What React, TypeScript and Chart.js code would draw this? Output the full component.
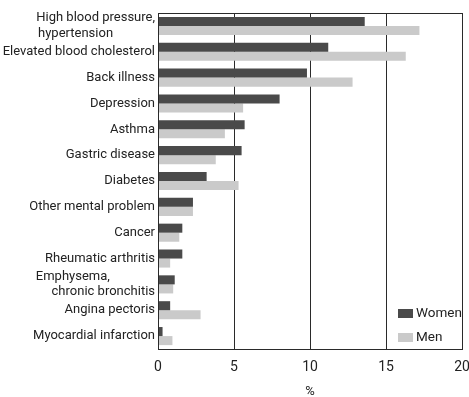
import React, { useEffect, useRef } from 'react';
import { Chart, registerables } from 'chart.js';

Chart.register(...registerables);

const categories: (string | string[])[] = [
  ['High blood pressure,', 'hypertension             '],
  'Elevated blood cholesterol',
  'Back illness',
  'Depression',
  'Asthma',
  'Gastric disease',
  'Diabetes',
  'Other mental problem',
  'Cancer',
  'Rheumatic arthritis',
  ['Emphysema,              ', 'chronic bronchitis'],
  'Angina pectoris',
  'Myocardial infarction',
];
const women = [13.6, 11.2, 9.8, 8.0, 5.7, 5.5, 3.2, 2.3, 1.6, 1.6, 1.1, 0.8, 0.3];
const men = [17.2, 16.3, 12.8, 5.6, 4.4, 3.8, 5.3, 2.3, 1.4, 0.8, 1.0, 2.8, 0.95];
const xTicks = [0, 5, 10, 15, 20];
const seriesNames = ['Women', 'Men'];
const seriesColors = ['#4a4a4a', '#cacaca'];
const axisTitle = '%';

const FONT = 'Roboto, "Noto Sans", sans-serif';

const framePlugin = {
  id: 'frame',
  afterDraw(chart: any) {
    const { ctx, chartArea } = chart;
    const { left, right, top, bottom } = chartArea;
    ctx.save();
    ctx.strokeStyle = '#2a2a2a';
    ctx.lineWidth = 1;
    ctx.strokeRect(Math.round(left) + 0.5, Math.round(top) + 0.5, Math.round(right - left), Math.round(bottom - top));
    const boxW = 15;
    const boxH = 9;
    const bx = right - 64;
    const rows = [bottom - 40, bottom - 16];
    ctx.font = '13.5px ' + FONT;
    ctx.textBaseline = 'middle';
    ctx.textAlign = 'left';
    seriesNames.forEach((name, i) => {
      const y = rows[i];
      ctx.fillStyle = seriesColors[i];
      ctx.fillRect(bx, y, boxW, boxH);
      ctx.fillStyle = '#222';
      ctx.fillText(name, bx + boxW + 3, y + boxH / 2 + 0.5);
    });
    ctx.restore();
  },
};

export default function App() {
  const ref = useRef<HTMLCanvasElement | null>(null);
  useEffect(() => {
    if (!ref.current) return;
    const chart = new Chart(ref.current, {
      type: 'bar',
      data: {
        labels: categories as any,
        datasets: [
          {
            label: seriesNames[0],
            data: women,
            backgroundColor: seriesColors[0],
            categoryPercentage: 0.7,
            barPercentage: 1.0,
          },
          {
            label: seriesNames[1],
            data: men,
            backgroundColor: seriesColors[1],
            categoryPercentage: 0.7,
            barPercentage: 1.0,
          },
        ],
      },
      options: {
        indexAxis: 'y',
        animation: false,
        responsive: false,
        maintainAspectRatio: false,
        layout: { padding: { left: 0, right: 7, top: 13, bottom: 0 } },
        plugins: {
          legend: { display: false },
          tooltip: { enabled: false },
        },
        scales: {
          x: {
            min: 0,
            max: 20,
            afterBuildTicks: (scale: any) => {
              scale.ticks = xTicks.map((v) => ({ value: v }));
            },
            afterFit: (scale: any) => {
              scale.height = 48;
              scale.paddingRight = 0;
              scale.paddingLeft = 0;
            },
            grid: { color: '#2a2a2a', lineWidth: 1, drawTicks: false },
            border: { color: '#2a2a2a', width: 1 },
            ticks: {
              color: '#222',
              font: { family: FONT, size: 14 },
              padding: 10,
              maxRotation: 0,
            },
            title: {
              display: true,
              text: axisTitle,
              color: '#222',
              font: { family: FONT, size: 13 },
              padding: { top: 0, bottom: -3 },
            },
          },
          y: {
            afterFit: (scale: any) => {
              scale.width = 158;
            },
            grid: { display: false, drawTicks: false },
            border: { color: '#2a2a2a', width: 1 },
            ticks: {
              color: '#222',
              font: { family: FONT, size: 13, lineHeight: 1.2 },
              padding: 3,
              autoSkip: false,
            },
          },
        },
      },
      plugins: [framePlugin],
    });
    return () => chart.destroy();
  }, []);
  return (
    <div style={{ position: 'fixed', left: 0, top: 0, width: 469, height: 397, background: '#fff' }}>
      <canvas ref={ref} width={469} height={397} style={{ width: 469, height: 397, display: 'block' }} />
    </div>
  );
}
